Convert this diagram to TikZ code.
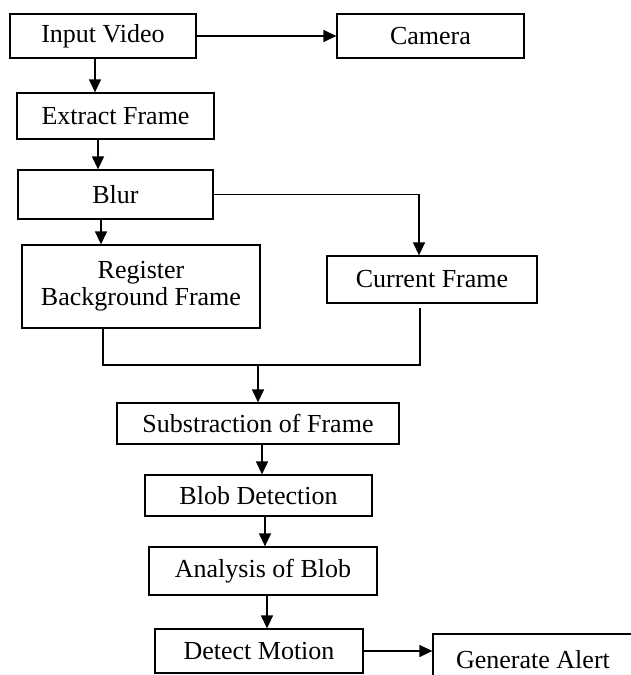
\documentclass[tikz,border=0pt]{standalone}
\usepackage{fontspec}
\setmainfont{Liberation Serif}
\usetikzlibrary{arrows.meta}
\begin{document}
\begin{tikzpicture}[x=1pt,y=-1pt,line width=1.3pt,
  box/.style={draw,rectangle,inner sep=0pt,align=center,font=\fontsize{26}{27}\selectfont},
  arr/.style={-{Triangle[length=13pt,width=12pt]}}]
\useasboundingbox (0,0) rectangle (631,675);
\clip (0,0) rectangle (631,675);
% boxes
\node[box,minimum width=186,minimum height=44] (invid) at (103,36) {Input Video};
\node[box,minimum width=187,minimum height=44] (camera) at (430.5,36) {Camera};
\node[box,minimum width=197,minimum height=46] (extract) at (115.5,116) {Extract Frame};
\node[box,minimum width=195,minimum height=49] (blur) at (115.5,194.5) {Blur};
\node[box,minimum width=238,minimum height=83] (register) at (141,286.5) {Register\\Background Frame};
\node[box,minimum width=210,minimum height=47] (current) at (432,279.5) {Current Frame};
\node[box,minimum width=282,minimum height=41] (subs) at (258,423.5) {Substraction of Frame};
\node[box,minimum width=227,minimum height=41] (blob) at (258.5,495.5) {Blob Detection};
\node[box,minimum width=228,minimum height=48] (analysis) at (263,571) {Analysis of Blob};
\node[box,minimum width=208,minimum height=44] (detect) at (259,651) {Detect Motion};
\node[box,minimum width=200,minimum height=52] (alert) at (533,660) {Generate Alert};
\coordinate (merge) at (258,365);
% connectors
\draw[arr] (invid.east) -- (camera.west);
\draw[arr] ([xshift=-8]invid.south) -- ([xshift=-8]invid.south |- extract.north);
\draw[arr] ([xshift=-17.5]extract.south) -- ([xshift=-17.5]extract.south |- blur.north);
\draw[arr] ([xshift=-14.5]blur.south) -- ([xshift=-14.5]blur.south |- register.north);
\draw[arr] (blur.east) -| ([xshift=-13]current.north);
\draw ([xshift=-38]register.south) |- (merge) -| ([xshift=-12,yshift=-4]current.south);
\draw[arr] (merge) -- (subs.north);
\draw[arr] ([xshift=4]subs.south) -- ([xshift=4]subs.south |- blob.north);
\draw[arr] ([xshift=6.5]blob.south) -- ([xshift=6.5]blob.south |- analysis.north);
\draw[arr] ([xshift=4]analysis.south) -- ([xshift=4]analysis.south |- detect.north);
\draw[arr] (detect.east) -- (detect.east -| alert.west);
\end{tikzpicture}
\end{document}
